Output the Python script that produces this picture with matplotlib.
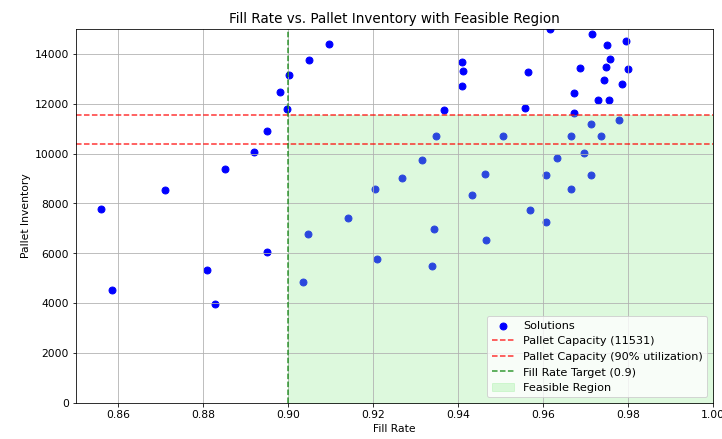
import numpy as np
import matplotlib
matplotlib.use("Agg")
import matplotlib.pyplot as plt

# Solutions (fill rate, pallet inventory)
fill_rate = [0.856, 0.871, 0.885, 0.892, 0.895, 0.898, 0.8998, 0.9001, 0.905, 0.9095,
             0.914, 0.9617, 0.9716, 0.975, 0.9795, 0.9758, 0.9409, 0.9411, 0.9409, 0.9566,
             0.9688, 0.9748, 0.9801, 0.9745, 0.9787, 0.9673, 0.9729, 0.9755, 0.9368, 0.9558,
             0.9673, 0.9713, 0.978, 0.9347, 0.9507, 0.9667, 0.9737, 0.9697, 0.9633, 0.9316,
             0.9268, 0.9464, 0.9607, 0.9713, 0.9204, 0.9667, 0.9432, 0.957, 0.9608, 0.9344,
             0.9466, 0.921, 0.9339, 0.8584, 0.8809, 0.8827, 0.8951, 0.9036, 0.9047]
pallets = [7790, 8520, 9390, 10080, 10910, 12460, 11770, 13160, 13760, 14400,
           7430, 14990, 14800, 14340, 14530, 13800, 13660, 13290, 12700, 13250,
           13440, 13480, 13380, 12930, 12800, 12440, 12160, 12160, 11740, 11820,
           11610, 11180, 11330, 10690, 10690, 10720, 10720, 10030, 9840, 9760,
           9030, 9180, 9120, 9120, 8560, 8560, 8350, 7750, 7240, 6990,
           6550, 5770, 5490, 4530, 5320, 3980, 6040, 4850, 6790]

pallet_capacity = 11531
utilization = 0.9
fill_target = 0.9

plt.rcParams['font.size'] = 10.8

fig, ax = plt.subplots(figsize=(10.04, 6.1), dpi=72)
fig.subplots_adjust(left=0.105, right=0.986, top=0.934, bottom=0.082)

ax.scatter(fill_rate, pallets, color='blue', label='Solutions', s=48)
ax.axhline(pallet_capacity, color='red', linestyle='--', alpha=0.8,
           label=f'Pallet Capacity ({pallet_capacity})')
ax.axhline(pallet_capacity * utilization, color='red', linestyle='--', alpha=0.8,
           label='Pallet Capacity (90% utilization)')
ax.axvline(fill_target, color='green', linestyle='--', alpha=0.8,
           label=f'Fill Rate Target ({fill_target})')
ax.fill_between([fill_target, 1.0], 0, pallet_capacity, color='lightgreen', alpha=0.3,
                label='Feasible Region')

ax.set_xlim(0.85, 1.0)
ax.set_ylim(0, 15000)
ax.set_xlabel('Fill Rate')
ax.set_ylabel('Pallet Inventory')
ax.set_title('Fill Rate vs. Pallet Inventory with Feasible Region', fontsize=13.5)
ax.grid(True)
ax.legend(loc='lower right', fontsize=11.2)

fig.savefig('out.png', dpi=72)
